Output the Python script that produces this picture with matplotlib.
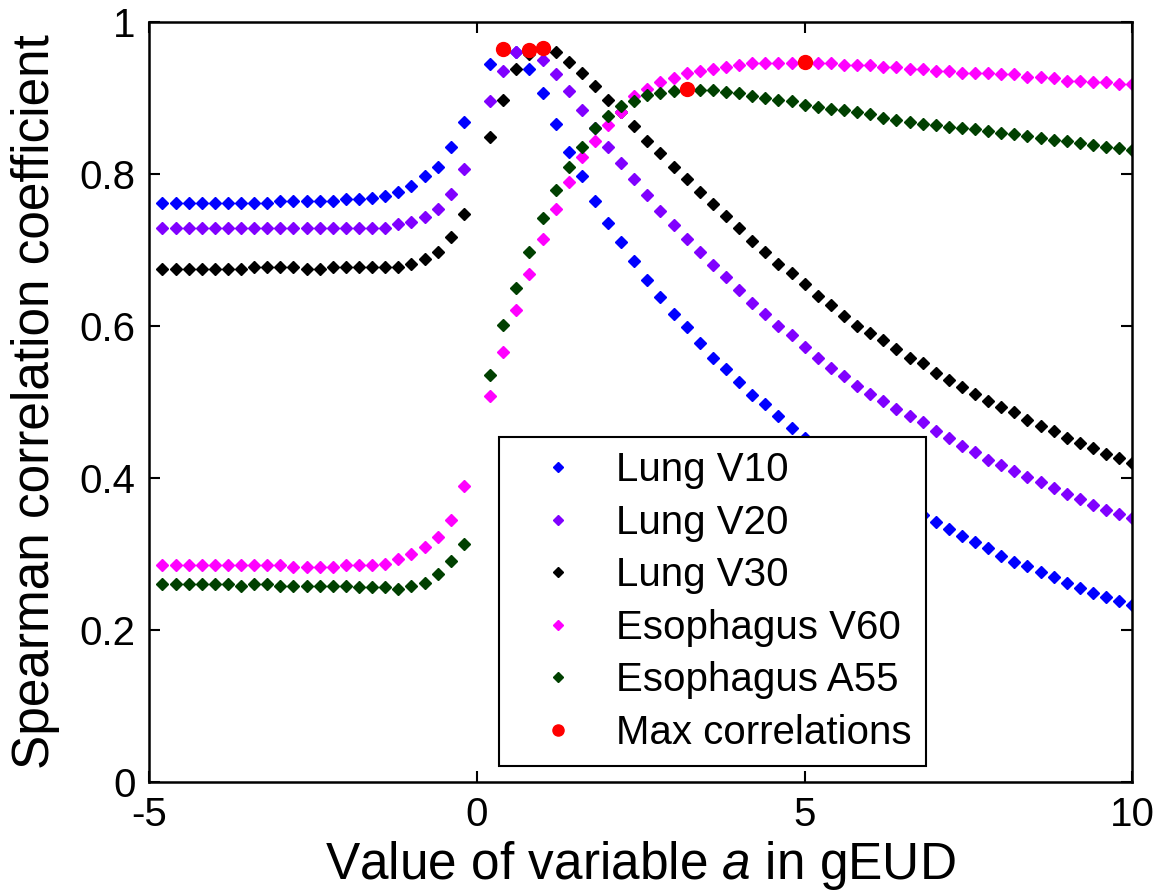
import matplotlib
matplotlib.use("Agg")
import matplotlib.pyplot as plt

plt.rcParams['font.family'] = ['Liberation Sans', 'DejaVu Sans']
plt.rcParams['mathtext.fontset'] = 'custom'
plt.rcParams['mathtext.rm'] = 'Liberation Sans'
plt.rcParams['mathtext.it'] = 'Liberation Sans:italic'

# values of a (no point at a = 0)
a = [-4.8, -4.6, -4.4, -4.2, -4.0, -3.8, -3.6, -3.4, -3.2, -3.0,
     -2.8, -2.6, -2.4, -2.2, -2.0, -1.8, -1.6, -1.4, -1.2, -1.0,
     -0.8, -0.6, -0.4, -0.2,
     0.2, 0.4, 0.6, 0.8, 1.0, 1.2, 1.4, 1.6, 1.8, 2.0,
     2.2, 2.4, 2.6, 2.8, 3.0, 3.2, 3.4, 3.6, 3.8, 4.0,
     4.2, 4.4, 4.6, 4.8, 5.0, 5.2, 5.4, 5.6, 5.8, 6.0,
     6.2, 6.4, 6.6, 6.8, 7.0, 7.2, 7.4, 7.6, 7.8, 8.0,
     8.2, 8.4, 8.6, 8.8, 9.0, 9.2, 9.4, 9.6, 9.8, 10.0]

lung_v10 = [0.762, 0.762, 0.762, 0.762, 0.762, 0.762, 0.762, 0.762, 0.762, 0.7645,
            0.7645, 0.7645, 0.7645, 0.7645, 0.767, 0.767, 0.769, 0.771, 0.776, 0.784,
            0.797, 0.809, 0.835, 0.868,
            0.945, 0.965, 0.960, 0.938, 0.906, 0.866, 0.829, 0.797, 0.764, 0.735,
            0.710, 0.686, 0.661, 0.638, 0.615, 0.598, 0.578, 0.558, 0.543, 0.526,
            0.509, 0.497, 0.482, 0.466, 0.452, 0.440, 0.428, 0.416, 0.404, 0.393,
            0.382, 0.371, 0.361, 0.351, 0.342, 0.332, 0.323, 0.315, 0.307, 0.297,
            0.289, 0.284, 0.276, 0.270, 0.262, 0.255, 0.248, 0.243, 0.238, 0.232]

lung_v20 = [0.7295, 0.7295, 0.7295, 0.7295, 0.7295, 0.7295, 0.7295, 0.7295, 0.7295, 0.7295,
            0.7295, 0.7295, 0.7295, 0.7295, 0.7295, 0.7295, 0.7295, 0.7295, 0.734, 0.737,
            0.743, 0.7545, 0.774, 0.806,
            0.896, 0.936, 0.960, 0.963, 0.950, 0.931, 0.909, 0.884, 0.860, 0.836,
            0.814, 0.794, 0.772, 0.751, 0.733, 0.714, 0.697, 0.680, 0.665, 0.647,
            0.630, 0.615, 0.600, 0.588, 0.572, 0.558, 0.545, 0.534, 0.521, 0.511,
            0.501, 0.490, 0.481, 0.474, 0.461, 0.452, 0.442, 0.434, 0.424, 0.417,
            0.409, 0.401, 0.394, 0.387, 0.379, 0.372, 0.364, 0.357, 0.353, 0.347]

lung_v30 = [0.6755, 0.6755, 0.6755, 0.6755, 0.6755, 0.6755, 0.6755, 0.678, 0.678, 0.678,
            0.678, 0.6755, 0.6755, 0.678, 0.678, 0.678, 0.678, 0.678, 0.678, 0.682,
            0.688, 0.697, 0.717, 0.747,
            0.849, 0.898, 0.938, 0.958, 0.966, 0.960, 0.948, 0.933, 0.916, 0.898,
            0.881, 0.863, 0.844, 0.827, 0.809, 0.794, 0.776, 0.760, 0.745, 0.729,
            0.712, 0.697, 0.682, 0.670, 0.655, 0.640, 0.628, 0.613, 0.600, 0.591,
            0.581, 0.569, 0.558, 0.551, 0.538, 0.529, 0.519, 0.511, 0.501, 0.493,
            0.486, 0.476, 0.468, 0.461, 0.453, 0.446, 0.439, 0.432, 0.426, 0.419]

eso_v60 = [0.285, 0.285, 0.285, 0.285, 0.285, 0.285, 0.285, 0.285, 0.285, 0.285,
           0.282, 0.282, 0.282, 0.282, 0.285, 0.285, 0.285, 0.287, 0.293, 0.300,
           0.309, 0.322, 0.345, 0.389,
           0.508, 0.566, 0.621, 0.668, 0.714, 0.754, 0.789, 0.822, 0.844, 0.865,
           0.882, 0.902, 0.912, 0.921, 0.926, 0.933, 0.936, 0.938, 0.941, 0.943,
           0.946, 0.946, 0.946, 0.946, 0.947, 0.946, 0.946, 0.943, 0.943, 0.943,
           0.941, 0.941, 0.938, 0.938, 0.936, 0.936, 0.933, 0.933, 0.933, 0.931,
           0.931, 0.928, 0.928, 0.926, 0.923, 0.923, 0.921, 0.921, 0.918, 0.918]

eso_a55 = [0.260, 0.260, 0.260, 0.260, 0.260, 0.260, 0.258, 0.260, 0.260, 0.258,
           0.258, 0.258, 0.258, 0.258, 0.258, 0.256, 0.256, 0.256, 0.2535, 0.258,
           0.262, 0.273, 0.290, 0.313,
           0.536, 0.601, 0.650, 0.697, 0.742, 0.779, 0.809, 0.836, 0.860, 0.876,
           0.889, 0.896, 0.904, 0.907, 0.909, 0.912, 0.911, 0.910, 0.908, 0.906,
           0.903, 0.9005, 0.898, 0.896, 0.891, 0.888, 0.886, 0.884, 0.8815, 0.8785,
           0.874, 0.8715, 0.869, 0.866, 0.864, 0.862, 0.861, 0.859, 0.857, 0.854,
           0.852, 0.8495, 0.847, 0.845, 0.843, 0.841, 0.8385, 0.836, 0.834, 0.832]

max_a = [0.4, 0.8, 1.0, 3.2, 5.0]
max_r = [0.965, 0.963, 0.966, 0.912, 0.947]

labels = ['Lung V10', 'Lung V20', 'Lung V30', 'Esophagus V60', 'Esophagus A55', 'Max correlations']
colors = ['#0000FF', '#8000FF', '#000000', '#FF00FF', '#004000']

fig = plt.figure(figsize=(11.61, 8.96), dpi=100)
ax = fig.add_axes([0.1286, 0.1276, 0.8467, 0.8478])

series = [lung_v10, lung_v20, lung_v30, eso_v60, eso_a55]
for ys, c, lab in zip(series, colors, labels):
    ax.plot(a, ys, linestyle='none', marker='D', markersize=6, color=c, label=lab)
ax.plot(max_a, max_r, linestyle='none', marker='o', markersize=10, color='#FF0000', label=labels[5])

ax.set_xlim(-5, 10)
ax.set_ylim(0, 1)
ax.set_xticks([-5, 0, 5, 10])
ax.set_xticklabels(['-5', '0', '5', '10'])
ax.set_yticks([0, 0.2, 0.4, 0.6, 0.8, 1])
ax.set_yticklabels(['0', '0.2', '0.4', '0.6', '0.8', '1'])
ax.tick_params(direction='in', length=8, width=1.5, labelsize=29, pad=10,
               top=True, right=True)
for s in ax.spines.values():
    s.set_linewidth(1.8)

ax.set_xlabel('Value of variable $a$ in gEUD', fontsize=37, labelpad=4)
ax.set_ylabel('Spearman correlation coefficient', fontsize=37, labelpad=14)

leg = ax.legend(loc='lower left', bbox_to_anchor=(0.356, 0.0207), fontsize=29,
                frameon=True, fancybox=False, framealpha=1, edgecolor='black',
                handlelength=2.2, handletextpad=0.35, labelspacing=0.36,
                borderpad=0.35, borderaxespad=0, numpoints=1, markerscale=0.8)
leg.get_frame().set_linewidth(1.5)

fig.savefig('out.png', dpi=100)
